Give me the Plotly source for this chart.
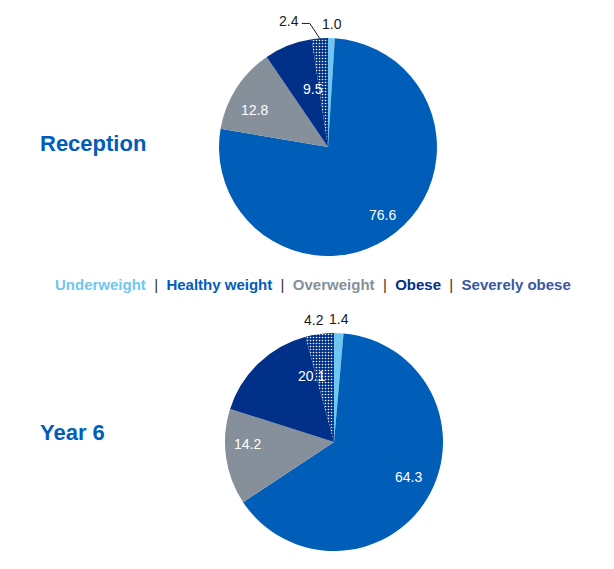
import math
import plotly.graph_objects as go

categories = ["Underweight", "Healthy weight", "Overweight", "Obese", "Severely obese"]
colors = ["#6FC7EF", "#005EB8", "#85909B", "#003087", "#003087"]

# Reported percentages (Obese includes Severely obese)
reception_pct = [1.0, 76.6, 12.8, 9.5, 2.4]
year6_pct = [1.4, 64.3, 14.2, 20.1, 4.2]

W, H = 614, 569
FONT = "Arial, Liberation Sans, sans-serif"


def slice_values(p):
    # obese slice drawn excluding the severely obese part
    return [p[0], p[1], p[2], round(p[3] - p[4], 1), p[4]]


fig = go.Figure()

charts = [
    dict(pct=reception_pct, dom=dict(x=[0.3567, 0.7117], y=[0.550, 0.933]), leader=True),
    dict(pct=year6_pct, dom=dict(x=[0.3664, 0.7215], y=[0.0316, 0.4148]), leader=False),
]


def to_paper(px, py):
    return px / W, 1 - py / H


for ch in charts:
    pct, dom = ch["pct"], ch["dom"]
    vals = slice_values(pct)
    fig.add_trace(go.Pie(
        labels=categories,
        values=vals,
        textinfo="none",
        sort=False,
        direction="clockwise",
        rotation=0,
        domain=dom,
        marker=dict(
            colors=colors,
            line=dict(width=0),
            pattern=dict(
                shape=["", "", "", "", "."],
                fgcolor="white",
                bgcolor=colors,
                size=3,
                solidity=0.22,
            ),
        ),
        showlegend=False,
        hoverinfo="label+percent",
        automargin=False,
    ))

    # geometry of the pie (pixels)
    x0, x1 = dom["x"][0] * W, dom["x"][1] * W
    y0, y1 = (1 - dom["y"][1]) * H, (1 - dom["y"][0]) * H
    cx, cy = (x0 + x1) / 2, (y0 + y1) / 2
    r = min(x1 - x0, y1 - y0) / 2
    total = sum(vals)
    cum = [0]
    for v in vals:
        cum.append(cum[-1] + v)
    ang = lambda frac: frac * 2 * math.pi

    def pt(theta, d):
        return cx + d * math.sin(theta), cy - d * math.cos(theta)

    texts = [f"{v:.1f}" for v in pct]
    # inside labels: healthy, overweight
    for i in (1, 2):
        mid = ang((cum[i] + cum[i + 1]) / 2 / total)
        px, py = pt(mid, 0.8 * r)
        xp, yp = to_paper(px, py)
        fig.add_annotation(x=xp, y=yp, xref="paper", yref="paper", text=texts[i],
                           showarrow=False, font=dict(family=FONT, size=14, color="white"))
    # obese label near the boundary with severely obese
    b = ang(cum[4] / total) - math.radians(4)
    px, py = pt(b, 0.64 * r)
    xp, yp = to_paper(px, py)
    fig.add_annotation(x=xp, y=yp, xref="paper", yref="paper", text=texts[3],
                       showarrow=False, font=dict(family=FONT, size=14, color="white"))
    # underweight outside label
    mid = ang((cum[0] + cum[1]) / 2 / total)
    px, py = pt(mid, r + 4)
    xp, yp = to_paper(px, py)
    fig.add_annotation(x=xp, y=yp, xref="paper", yref="paper", text=texts[0],
                       showarrow=False, yanchor="bottom",
                       font=dict(family=FONT, size=14, color="#1a1a1a"))
    # severely obese outside label
    mid = ang((cum[4] + cum[5]) / 2 / total)
    if ch["leader"]:
        ex, ey = pt(mid, r)
        kx, ky = ex - 10, ey - 15
        hx = kx - 8
        fig.add_shape(type="path", xref="paper", yref="paper",
                      path="M {} {} L {} {} L {} {}".format(
                          *to_paper(ex, ey), *to_paper(kx, ky), *to_paper(hx, ky)),
                      line=dict(color="#1a1a1a", width=1))
        xp, yp = to_paper(hx - 1, ky - 2)
        fig.add_annotation(x=xp, y=yp, xref="paper", yref="paper", text=texts[4],
                           showarrow=False, xanchor="right", yanchor="middle",
                           font=dict(family=FONT, size=14, color="#1a1a1a"))
    else:
        px, py = pt(mid, r + 4)
        xp, yp = to_paper(px - 5, py)
        fig.add_annotation(x=xp, y=yp, xref="paper", yref="paper", text=texts[4],
                           showarrow=False, yanchor="bottom",
                           font=dict(family=FONT, size=14, color="#1a1a1a"))

title_font = dict(family=FONT, size=22, color="#005EB8")
fig.add_annotation(x=38 / W, y=1 - 144 / H, xref="paper", yref="paper",
                   text="<b>Reception</b>", showarrow=False, xanchor="left",
                   yanchor="middle", font=title_font)
fig.add_annotation(x=38 / W, y=1 - 433 / H, xref="paper", yref="paper",
                   text="<b>Year 6</b>", showarrow=False, xanchor="left",
                   yanchor="middle", font=title_font)

nb = "\u00a0"
sep = f"{nb}{nb}|{nb}{nb}"
legend_text = (
    "<b><span style='color:#6FC7EF'>Underweight</span></b>" + sep +
    "<b><span style='color:#005EB8'>Healthy weight</span></b>" + sep +
    "<b><span style='color:#85909B'>Overweight</span></b>" + sep +
    "<b><span style='color:#003087'>Obese</span></b>" + sep +
    "<b><span style='color:#3A58A2'>Severely obese</span></b>"
)
fig.add_annotation(x=313 / W, y=1 - 284 / H, xref="paper", yref="paper",
                   text=legend_text, showarrow=False, xanchor="center",
                   yanchor="middle",
                   font=dict(family=FONT, size=15, color="#333333"))

fig.update_layout(
    width=W, height=H,
    margin=dict(l=0, r=0, t=0, b=0),
    paper_bgcolor="white",
    plot_bgcolor="white",
)

fig.write_html("out.html")
